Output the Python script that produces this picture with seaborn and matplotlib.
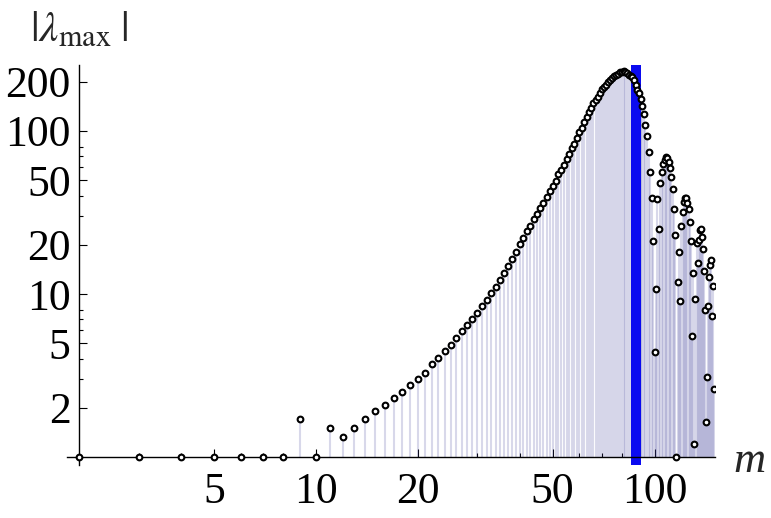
import matplotlib
matplotlib.use("Agg")
import matplotlib.pyplot as plt
import matplotlib.ticker as mticker
import numpy as np
import pandas as pd
import seaborn as sns

sns.set_theme(style="ticks")
plt.rcParams['font.family'] = ['Liberation Serif', 'DejaVu Serif']
plt.rcParams['mathtext.fontset'] = 'stix'

# values, one per m = 2 .. 150
m_vals = list(range(2, 151))
lam_max = [
    1.0, 1.0, 1.0, 1.0, 1.0, 1.0, 1.0, 1.71, 1.0,                 # 2-10
    1.5, 1.33, 1.5, 1.7, 1.91, 2.08, 2.3, 2.52, 2.78, 3.03,       # 11-20
    3.3, 3.7, 4.08, 4.48, 4.88, 5.38, 5.92, 6.45, 7.05, 7.65,     # 21-30
    8.4, 9.25, 10.1, 11.1, 12.2, 13.4, 14.8, 16.3, 18.0, 20.2,    # 31-40
    22.2, 24.2, 26.3, 28.7, 31.0, 33.6, 36.3, 39.3, 42.9, 45.8,   # 41-50
    49.5, 54.5, 58.0, 62.0, 67.0, 72.5, 78.5, 83.5, 90.0, 98.0,   # 51-60
    105, 113, 121, 130, 139, 148, 155, 161, 170, 180,             # 61-70
    186, 192, 199, 205, 212, 217, 221, 225, 229, 231,             # 71-80
    232, 230, 227, 222, 218, 213, 206, 191, 178, 170,             # 81-90
    156, 142, 127, 109, 93, 74, 56, 39, 21, 4.4,                  # 91-100
    10.8, 38, 25, 48, 56, 63, 66, 69, 68, 64.5,                   # 101-110
    59, 52, 44, 33, 23, 1.0, 11.8, 18.2, 9.0, 26,                 # 111-120
    32, 36.8, 39, 38.6, 36.3, 33, 27.8, 21, 5.5, 13.4,            # 121-130
    1.2, 9.3, 20.5, 15.6, 21.5, 24.6, 25, 22.4, 18.9, 13.9,       # 131-140
    8.0, 1.65, 3.1, 8.5, 12.7, 15.1, 16.2, 7.3, 11.2, 2.6,        # 141-150
]
marker_m = 88.3

x_major = [5, 10, 20, 50, 100]
x_minor = [3, 4, 6, 7, 8, 30, 40, 60, 70, 80, 90]
y_major = [2, 5, 10, 20, 50, 100, 200]
y_minor = [3, 4, 6, 7, 8, 30, 40, 60, 70, 80]

df = pd.DataFrame({'m': m_vals, 'lam': lam_max})

fig = plt.figure(figsize=(7.71, 5.18), dpi=100)
ax = fig.add_axes([0.0866, 0.1017, 0.8404, 0.7734])
ax.set_xscale('log')
ax.set_yscale('log')

# filling to the axis
ax.vlines(df['m'], 1, df['lam'], color=(0.24, 0.24, 0.6), alpha=0.2, lw=1.5, zorder=1)
ax.axvline(marker_m, color='#0a0af0', lw=7.2, zorder=2)
sns.scatterplot(data=df, x='m', y='lam', ax=ax, marker='o', s=17,
                facecolor='white', edgecolor='black', linewidth=1.5, zorder=3)

ax.set_xlim(1.84, 150.5)
ax.set_ylim(0.89, 255)

for side in ['top', 'right']:
    ax.spines[side].set_visible(False)
ax.spines['left'].set_position(('data', 2))
ax.spines['bottom'].set_position(('data', 1))
for side in ['left', 'bottom']:
    ax.spines[side].set_linewidth(1.0)
    ax.spines[side].set_color('black')

fmt = mticker.FuncFormatter(lambda v, p: f'{v:g}')
ax.xaxis.set_major_locator(mticker.FixedLocator(x_major))
ax.xaxis.set_minor_locator(mticker.FixedLocator(x_minor))
ax.yaxis.set_major_locator(mticker.FixedLocator(y_major))
ax.yaxis.set_minor_locator(mticker.FixedLocator(y_minor))
ax.xaxis.set_major_formatter(fmt)
ax.yaxis.set_major_formatter(fmt)
ax.xaxis.set_minor_formatter(mticker.NullFormatter())
ax.yaxis.set_minor_formatter(mticker.NullFormatter())

ax.tick_params(which='major', direction='in', length=5.5, width=0.8, color='black',
               labelsize=31.5, labelcolor='black')
ax.tick_params(which='minor', direction='in', length=2.7, width=0.8, color='black')
ax.tick_params(axis='x', which='major', pad=11)
ax.tick_params(axis='y', which='major', pad=6)
ax.set_xlabel('')
ax.set_ylabel('')
ax.grid(False)

fig.text(79 / 771, 1 - 30 / 518, r'$|\lambda_{\rm max}\;|$', fontsize=31,
         ha='center', va='center')
fig.text(749 / 771, 1 - 461 / 518, 'm', fontsize=32, style='italic',
         ha='center', va='center')

fig.savefig('out.png', dpi=100)
